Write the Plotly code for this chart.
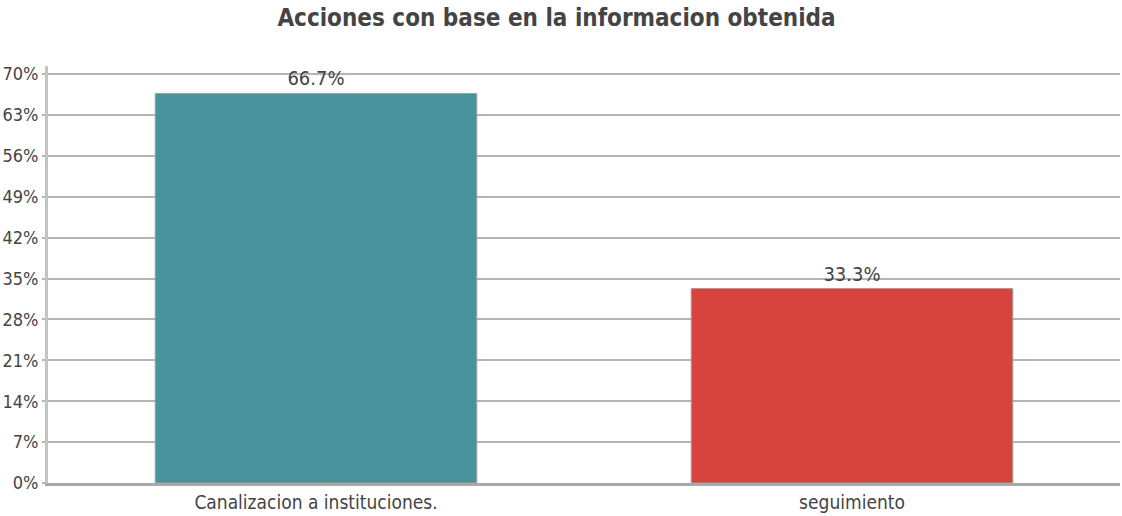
import plotly.graph_objects as go

categories = ["Canalizacion a instituciones.", "seguimiento"]
values = [66.7, 33.3]
labels = ["66.7%", "33.3%"]
colors = ["#48939c", "#d6443d"]
tick_vals = [0, 7, 14, 21, 28, 35, 42, 49, 56, 63, 70]
tick_text = ["0%", "7%", "14%", "21%", "28%", "35%", "42%", "49%", "56%", "63%", "70%"]

FONT = "DejaVu Sans Condensed, Liberation Sans Narrow, sans-serif"

fig = go.Figure(go.Bar(
    x=categories, y=values, text=labels, textposition="outside",
    marker=dict(color=colors, line=dict(color="#a0a0a0", width=1)),
    textfont=dict(size=20, color="#444444", family=FONT),
    cliponaxis=False,
))

fig.update_layout(
    width=1122, height=516,
    margin=dict(l=48, r=2, t=66, b=33),
    paper_bgcolor="white", plot_bgcolor="white",
    bargap=0.4,
    showlegend=False,
    title=dict(text="<b>Acciones con base en la informacion obtenida</b>",
               x=0.496, xanchor="center", y=0.965, yanchor="middle",
               font=dict(size=24, color="#444444", family=FONT)),
    font=dict(family=FONT, color="#444444"),
)
fig.update_yaxes(range=[0, 71.4], tickvals=tick_vals, ticktext=tick_text,
                 showgrid=True, gridcolor="#b5b5b5", gridwidth=2,
                 showline=True, linecolor="#c4c4c4", linewidth=3,
                 ticks="outside", tickcolor="#b5b5b5", ticklen=3, tickwidth=2,
                 tickfont=dict(size=18, color="#444444", family=FONT),
                 zeroline=False, automargin=False)
fig.update_xaxes(showline=True, linecolor="#a8a8a8", linewidth=3,
                 tickfont=dict(size=19, color="#444444", family=FONT),
                 ticks="", automargin=False)

fig.write_html("out.html", config={"displayModeBar": False},
               post_script="document.body.style.margin='0';")
